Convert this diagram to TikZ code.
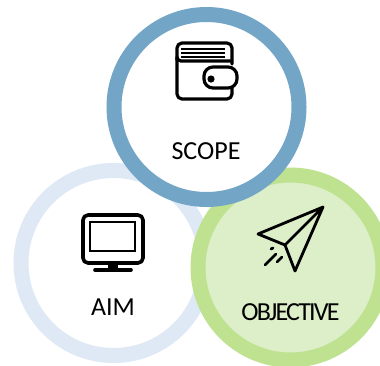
\documentclass[tikz,border=0pt]{standalone}
\usepackage{fontspec}
\setmainfont{Carlito}
\definecolor{scopeblue}{HTML}{72A5C6}
\definecolor{aimblue}{HTML}{DEE9F5}
\definecolor{objgreen}{HTML}{BEE290}
\definecolor{objfill}{HTML}{DCEFC8}
\tikzset{
  ring/.style={circle,minimum size=185pt,inner sep=0pt,line width=15pt},
  icon/.style={line width=3.2pt,line cap=round,line join=round,black},
  thin icon/.style={line width=1.6pt,line cap=butt,black},
  lab/.style={font=\fontsize{26pt}{30pt}\selectfont,text=black,inner sep=0pt,anchor=center}
}
\begin{document}
\begin{tikzpicture}[x=1pt,y=-1pt]
\useasboundingbox (0,0) rectangle (380,365);
\fill[white] (0,0) rectangle (380,365);
\begin{scope}
\clip (0,0) rectangle (380,365);
\node[ring,draw=aimblue,fill=white] (aimc) at (113.5,263) {};
\node[ring,draw=objgreen,fill=objfill] (objc) at (290.5,267.5) {};
\node[ring,draw=scopeblue,fill=white] (scopec) at (206.5,107) {};
\end{scope}
\node[lab] (scopet) at (206,151) {SCOPE};
\node[lab] (aimt) at (113,307) {AIM};
\node[lab,font=\fontsize{26pt}{30pt}\selectfont\addfontfeature{LetterSpace=-7}] (objt) at (290.5,312) {OBJECTIVE};
% wallet
\draw[icon,rounded corners=5pt] (232,64) -- (232,43) -- (177,43) -- (177,99) -- (232,99) -- (232,88);
\draw[icon,rounded corners=4pt] (177,60) -- (177,61) -- (232,61);
\draw[icon,rounded corners=9pt] (225,67) -- (237,67) -- (237,88) -- (204,88) -- (204,67) -- (225,67);
\fill (211,79) circle (3.6pt);
\draw[thin icon] (181,49) -- (225,49) (181,53) -- (225,53) (181,57) -- (225,57);
% monitor
\draw[icon,line width=3.6pt,rounded corners=5pt] (83,215) rectangle (143,263);
\draw[thin icon] (90,222) rectangle (135,251);
\fill (108,263) rectangle (118,269);
\draw[line width=3.6pt,line cap=round] (95,270) -- (131,270);
% paper plane
\draw[icon,line width=2.8pt] (323,207) -- (258,234) -- (285,245) -- (323,207) -- (295,271) -- (285,245);
\draw[icon,line width=2.8pt] (265,265) -- (276,254) (277,262) -- (282,257) (271,249) -- (273,248);
\end{tikzpicture}
\end{document}
